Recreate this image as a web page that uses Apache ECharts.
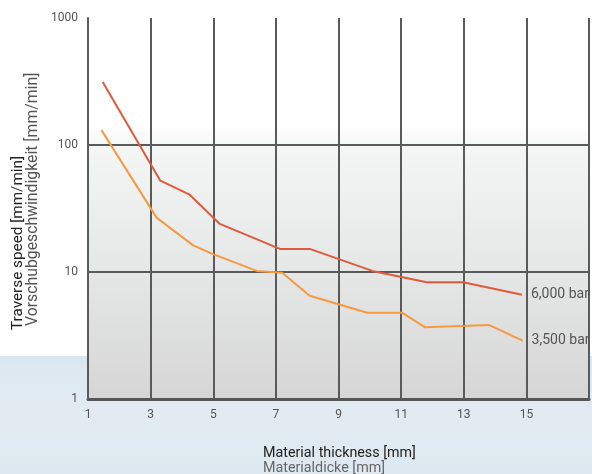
<!DOCTYPE html>
<html>
<head>
<meta charset="utf-8">
<script src="https://cdn.jsdelivr.net/npm/echarts@6/dist/echarts.min.js"></script>
<style>
html,body{margin:0;padding:0;background:#fff;}
#chart{width:592px;height:474px;}
</style>
</head>
<body>
<div id="chart"></div>
<script>
// Data
var seriesNames = ['6,000 bar', '3,500 bar'];
var thickness6000 = [1.47, 3.31, 4.23, 5.21, 7.13, 8.08, 10.08, 11.82, 12.98, 14.86];
var speed6000     = [313, 52.4, 40.9, 23.9, 15.2, 15.2, 10.2, 8.3, 8.3, 6.63];
var thickness3500 = [1.43, 3.19, 4.36, 4.97, 6.39, 7.2, 8.08, 9.92, 11.03, 11.77, 13.8, 14.88];
var speed3500     = [131, 26.8, 16.2, 13.9, 10.2, 9.87, 6.51, 4.78, 4.78, 3.67, 3.83, 2.88];
var xTickLabels = ['1', '3', '5', '7', '9', '11', '13', '15'];
var yTickLabels = ['1', '10', '100', '1000'];
var xTitle = ['Material thickness [mm]', 'Materialdicke [mm]'];
var yTitle = ['Traverse speed [mm/min]', 'Vorschubgeschwindigkeit [mm/min]'];

function pairs(xs, ys) { return xs.map(function (x, i) { return [x, ys[i]]; }); }

var FONT = 'Roboto';
var chart = echarts.init(document.getElementById('chart'), null, {renderer: 'canvas'});
chart.setOption({
  animation: false,
  backgroundColor: '#ffffff',
  graphic: [
    {type: 'rect', z: -10, shape: {x: 0, y: 356, width: 592, height: 118},
     style: {fill: new echarts.graphic.LinearGradient(0, 0, 0, 1, [
       {offset: 0, color: '#dbe7f0'}, {offset: 0.5, color: '#e2ebf2'}, {offset: 1, color: '#dde8f0'}])}},
    {type: 'text', x: 18, y: 330, rotation: Math.PI / 2,
     style: {text: yTitle[0], fill: '#222', font: '15.3px ' + FONT, align: 'left', verticalAlign: 'middle'}},
    {type: 'text', x: 33, y: 326, rotation: Math.PI / 2,
     style: {text: yTitle[1], fill: '#555', font: '15.8px ' + FONT, align: 'left', verticalAlign: 'middle'}},
    {type: 'text', x: 263, y: 453,
     style: {text: xTitle[0], fill: '#222', font: '14.3px ' + FONT, align: 'left', verticalAlign: 'middle'}},
    {type: 'text', x: 263, y: 468,
     style: {text: xTitle[1], fill: '#666', font: '14.3px ' + FONT, align: 'left', verticalAlign: 'middle'}}
  ],
  grid: {
    left: 88, right: -2, top: 18, bottom: 75, containLabel: false, show: true,
    borderWidth: 0,
    backgroundColor: new echarts.graphic.LinearGradient(0, 0, 0, 1, [
      {offset: 0, color: '#ffffff'}, {offset: 0.28, color: '#ffffff'},
      {offset: 0.34, color: '#f4f5f5'}, {offset: 0.67, color: '#e5e6e6'},
      {offset: 1, color: '#d6d6d6'}])
  },
  xAxis: {
    type: 'value', min: 1, max: 17, interval: 1,
    axisLine: {show: true, lineStyle: {color: '#555', width: 3}},
    axisTick: {show: false},
    axisLabel: {
      color: '#555', fontSize: 12, fontFamily: FONT, margin: 10,
      formatter: function (v) {
        var s = String(v);
        return xTickLabels.indexOf(s) >= 0 ? s : '';
      }
    },
    splitLine: {show: true, lineStyle: {color: ['#5a5a5a', 'rgba(0,0,0,0)'], width: 2}}
  },
  yAxis: {
    type: 'log', logBase: 10, min: 1, max: 1000,
    axisLine: {show: true, lineStyle: {color: '#5a5a5a', width: 2}},
    axisTick: {show: false},
    axisLabel: {
      color: '#555', fontSize: 12, fontFamily: FONT, margin: 10,
      formatter: function (v) {
        var s = String(Math.round(v));
        return yTickLabels.indexOf(s) >= 0 ? s : '';
      }
    },
    splitLine: {show: true, showMinLine: false, showMaxLine: false, lineStyle: {color: '#5a5a5a', width: 2}}
  },
  series: [
    {
      name: seriesNames[0], type: 'line', data: pairs(thickness6000, speed6000),
      showSymbol: false, symbol: 'none', z: 3,
      lineStyle: {color: '#df5a3c', width: 2},
      endLabel: {show: true, formatter: seriesNames[0], color: '#555', fontSize: 14, fontFamily: FONT, distance: 9}
    },
    {
      name: seriesNames[1], type: 'line', data: pairs(thickness3500, speed3500),
      showSymbol: false, symbol: 'none', z: 3,
      lineStyle: {color: '#f69a40', width: 2},
      endLabel: {show: true, formatter: seriesNames[1], color: '#555', fontSize: 14, fontFamily: FONT, distance: 9}
    }
  ]
});
</script>
</body>
</html>
